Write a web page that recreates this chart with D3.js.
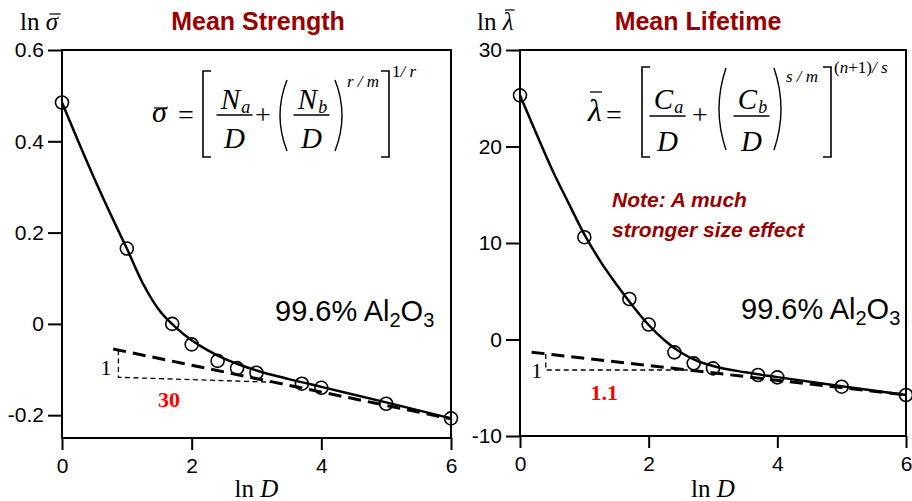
<!DOCTYPE html>
<html><head><meta charset="utf-8">
<script src="https://cdn.jsdelivr.net/npm/d3@7"></script>
<style>
html,body{margin:0;padding:0;background:#fff;}
svg{display:block;}
</style></head>
<body>
<svg id="chart" width="912" height="501"></svg>
<script>
// ---- data ----
const lnD = [0, 1, 1.7, 2, 2.4, 2.7, 3, 3.7, 4, 5, 6];
const strength = [0.485, 0.165, 0.0, -0.045, -0.081, -0.097, -0.107, -0.131, -0.140, -0.175, -0.207];
const lifetime = [25.3, 10.6, 4.2, 1.55, -1.33, -2.47, -2.99, -3.68, -3.92, -4.89, -5.75];

const fitX = [0, 0.25, 0.5, 0.75, 1, 1.25, 1.5, 1.75, 2, 2.25, 2.5, 2.75, 3, 3.5, 4, 5, 6];
const strengthFit = [0.485, 0.40, 0.318, 0.24, 0.165, 0.088, 0.030, -0.007, -0.036, -0.058, -0.076, -0.090, -0.102, -0.121, -0.138, -0.172, -0.207];
const lifetimeFit = [25.3, 21.4, 17.6, 14.2, 10.9, 8.1, 5.7, 3.5, 1.5, -0.1, -1.35, -2.2, -2.75, -3.4, -3.9, -4.85, -5.75];

const strengthAsymptote = [[0.79, -0.055], [6, -0.208]];
const strengthTriangle = [[0.87, -0.057], [0.87, -0.117], [3.3, -0.128]];
const lifetimeAsymptote = [[0.18, -1.31], [6, -5.75]];
const lifetimeTriangle = [[0.4, -1.50], [0.4, -3.16], [2.72, -3.16]];

const xTicks = [0, 2, 4, 6];
const strengthTicks = [-0.2, 0, 0.2, 0.4, 0.6];
const lifetimeTicks = [-10, 0, 10, 20, 30];

const titles = ["Mean Strength", "Mean Lifetime"];
const materialLabel = "99.6% Al";
const noteLines = ["Note: A much", "stronger size effect"];

// ---- drawing ----
const svg = d3.select("#chart");
const SANS = "'Liberation Sans', Arial, Helvetica, sans-serif";
const SERIF = "'Liberation Serif', 'Times New Roman', serif";
const DARKRED = "#990000";
const hyphen = f => d => f(d).replace("\u2212", "-");

function panel(opt) {
  const x = d3.scaleLinear().domain([0, 6]).range([opt.x0, opt.x1]);
  const y = d3.scaleLinear().domain(opt.yDomain).range([opt.yb, 50]);
  const g = svg.append("g");

  g.append("rect").attr("x", opt.x0).attr("y", 50).attr("width", opt.x1 - opt.x0).attr("height", opt.yb - 50)
    .attr("fill", "none").attr("stroke", "#000").attr("stroke-width", 2);

  const ax = g.append("g").attr("transform", `translate(0,${opt.yb})`)
    .call(d3.axisBottom(x).tickValues(xTicks).tickSize(12).tickPadding(4).tickFormat(d3.format("d")));
  const ay = g.append("g").attr("transform", `translate(${opt.x0},0)`)
    .call(d3.axisLeft(y).tickValues(opt.ticks).tickSize(14).tickPadding(4).tickFormat(hyphen(opt.fmt)));
  [ax, ay].forEach(a => {
    a.select(".domain").remove();
    a.selectAll("line").attr("stroke", "#000").attr("stroke-width", 2);
    a.selectAll("text").attr("font-family", SANS).attr("font-size", 21).attr("fill", "#000");
  });
  ax.selectAll("text").attr("dy", "0.9em");

  const line = d3.line().x(d => x(d[0])).y(d => y(d[1]));
  g.append("path").attr("d", line(opt.tri)).attr("fill", "none").attr("stroke", "#000")
    .attr("stroke-width", 1.3).attr("stroke-dasharray", "5,3.5");
  g.append("path").attr("d", line(opt.asym)).attr("fill", "none").attr("stroke", "#000")
    .attr("stroke-width", 3).attr("stroke-dasharray", "13,7");

  const curve = d3.line().x((d, i) => x(fitX[i])).y(d => y(d)).curve(d3.curveMonotoneX);
  g.append("path").attr("d", curve(opt.fit)).attr("fill", "none").attr("stroke", "#000").attr("stroke-width", 2.5);

  g.selectAll("circle.pt").data(opt.vals).join("circle").attr("class", "pt")
    .attr("cx", (d, i) => x(lnD[i])).attr("cy", d => y(d)).attr("r", 6.5)
    .attr("fill", "none").attr("stroke", "#000").attr("stroke-width", 1.6);

  g.append("text").attr("x", x(opt.oneAt[0])).attr("y", y(opt.oneAt[1]))
    .attr("font-family", SERIF).attr("font-size", 22).attr("text-anchor", "middle").text("1");
  g.append("text").attr("x", x(opt.redAt[0])).attr("y", y(opt.redAt[1]))
    .attr("font-family", SERIF).attr("font-size", 22).attr("font-weight", "bold").attr("fill", "#ff0000")
    .attr("text-anchor", "middle").text(opt.red);

  g.append("text").attr("x", opt.titleX).attr("y", 30).attr("text-anchor", "middle")
    .attr("font-family", SANS).attr("font-weight", "bold").attr("font-size", 25).attr("fill", DARKRED).text(opt.title);

  const m = g.append("text").attr("x", opt.matX).attr("y", opt.matY).attr("font-family", SANS).attr("font-size", 29);
  m.append("tspan").text(materialLabel);
  m.append("tspan").attr("font-size", 20).attr("dy", 6).text("2");
  m.append("tspan").attr("dy", -6).text("O");
  m.append("tspan").attr("font-size", 20).attr("dy", 6).text("3");

  const yl = g.append("text").attr("x", opt.ylabX).attr("y", 30).attr("font-family", SERIF).attr("font-size", 25);
  yl.append("tspan").text("ln ");
  const sym = yl.append("tspan").attr("font-style", "italic").text(opt.sym);
  const bb = yl.node().getBBox();
  const symW = sym.node().getComputedTextLength();
  g.append("line").attr("x1", bb.x + bb.width - symW + 2).attr("x2", bb.x + bb.width + 1)
    .attr("y1", opt.symBarY).attr("y2", opt.symBarY).attr("stroke", "#000").attr("stroke-width", 1.2);

  const xl = g.append("text").attr("x", (opt.x0 + opt.x1) / 2).attr("y", 497).attr("text-anchor", "middle")
    .attr("font-family", SERIF).attr("font-size", 25);
  xl.append("tspan").text("ln ");
  xl.append("tspan").attr("font-style", "italic").text("D");
  return {x, y, g};
}

panel({x0: 62, x1: 451, yb: 438, yDomain: [-0.25, 0.6], ticks: strengthTicks, fmt: d => d === 0 ? "0" : d3.format(".1f")(d),
  fit: strengthFit, vals: strength, asym: strengthAsymptote, tri: strengthTriangle,
  oneAt: [0.68, -0.112], redAt: [1.65, -0.183], red: "30", title: titles[0], titleX: 258,
  matX: 275, matY: 321, ylabX: 20, sym: "σ", symBarY: 14});
panel({x0: 520, x1: 906, yb: 436, yDomain: [-10, 30], ticks: lifetimeTicks, fmt: d3.format("d"),
  fit: lifetimeFit, vals: lifetime, asym: lifetimeAsymptote, tri: lifetimeTriangle,
  oneAt: [0.26, -4.0], redAt: [1.31, -6.27], red: "1.1", title: titles[1], titleX: 698,
  matX: 741, matY: 319, ylabX: 477, sym: "λ", symBarY: 10});

const note = svg.append("text").attr("font-family", SANS).attr("font-weight", "bold").attr("font-style", "italic")
  .attr("font-size", 21).attr("fill", DARKRED);
noteLines.forEach((t, i) => note.append("tspan").attr("x", 612).attr("y", 207 + i * 30).text(t));

// ---- formulas ----
function txt(x, y, s, size, italic, anchor) {
  return svg.append("text").attr("x", x).attr("y", y).attr("font-family", SERIF).attr("font-size", size)
    .attr("font-style", italic ? "italic" : "normal").attr("text-anchor", anchor || "start").text(s);
}
function hline(x1, x2, y, w) {
  svg.append("line").attr("x1", x1).attr("x2", x2).attr("y1", y).attr("y2", y).attr("stroke", "#000").attr("stroke-width", w || 1.3);
}
function bracket(x, y1, y2, dir) {
  svg.append("path").attr("d", `M${x + dir * 8},${y1}L${x},${y1}L${x},${y2}L${x + dir * 8},${y2}`)
    .attr("fill", "none").attr("stroke", "#000").attr("stroke-width", 1.6);
}
function paren(x, y1, y2, dir) {
  const my = (y1 + y2) / 2;
  svg.append("path").attr("d", `M${x},${y1}Q${x - dir * 14},${my} ${x},${y2}`)
    .attr("fill", "none").attr("stroke", "#000").attr("stroke-width", 1.4);
}
function frac(cx, numBase, numSub, top, barY, bot) {
  const n = txt(cx - 4, top, numBase, 29, true, "middle");
  const nw = n.node().getComputedTextLength();
  txt(cx - 4 + nw / 2 + 1, top + 4, numSub, 18, true);
  hline(cx - 18, cx + 18, barY);
  txt(cx, bot, "D", 29, true, "middle");
}

// left formula
txt(152, 122, "σ", 30, true);
hline(154, 167, 108);
txt(178, 124, "=", 28, false);
bracket(203, 71, 157, 1);
frac(234.5, "N", "a", 109, 115, 148);
txt(255, 124, "+", 28, false);
paren(287, 80, 151, 1);
frac(311.5, "N", "b", 109, 115, 148);
paren(335, 80, 151, -1);
txt(347, 87, "r / m", 17, true);
bracket(389, 71, 157, -1);
const e1 = txt(392, 77, "1", 17, false);
e1.append("tspan").attr("font-style", "italic").text("/ r");

// right formula
txt(588, 121, "λ", 32, true);
hline(590, 602, 92);
txt(606, 124, "=", 28, false);
bracket(642, 67, 157, 1);
frac(667.5, "C", "a", 109, 116, 151);
txt(692, 124, "+", 28, false);
paren(726, 68, 150, 1);
frac(751.5, "C", "b", 109, 116, 151);
paren(774, 68, 150, -1);
txt(786, 82, "s / m", 17, true);
bracket(831, 67, 157, -1);
const e2 = txt(834, 73, "(", 17, false);
e2.append("tspan").attr("font-style", "italic").text("n");
e2.append("tspan").text("+1)");
e2.append("tspan").attr("font-style", "italic").text("/ s");
</script>
</body></html>
